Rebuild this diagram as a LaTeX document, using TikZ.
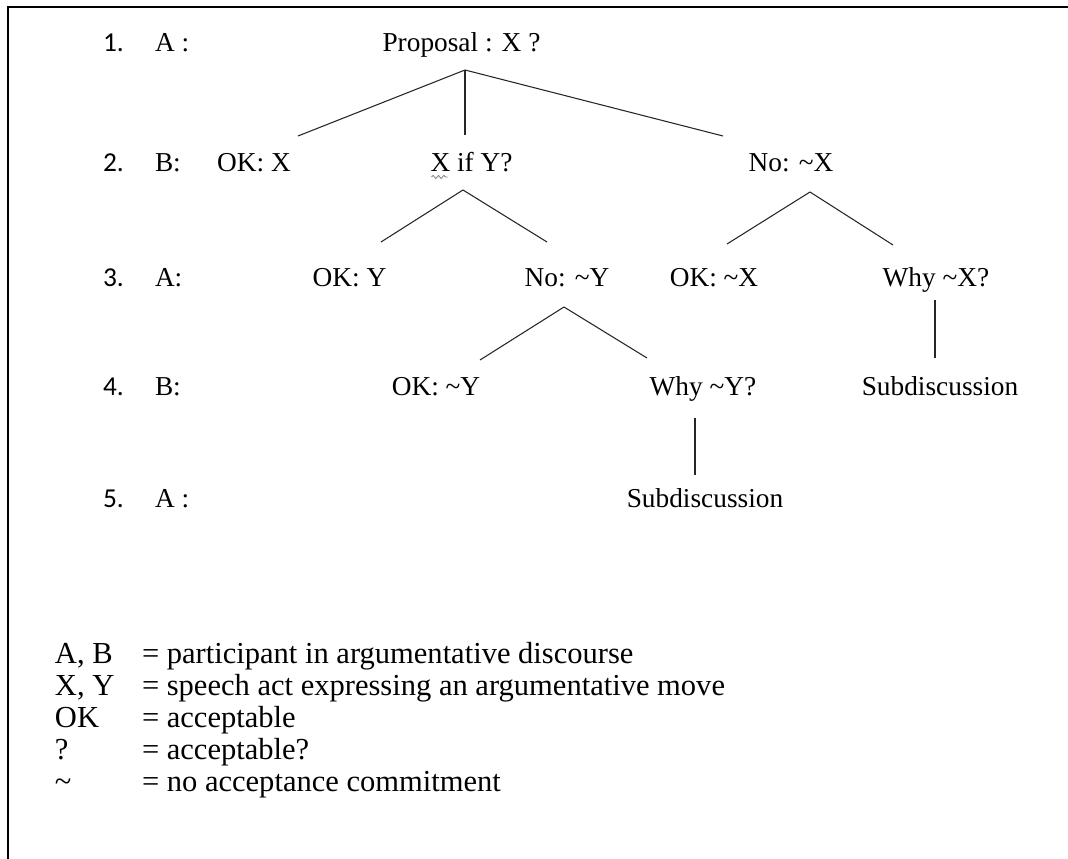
\documentclass[tikz,border=0pt]{standalone}
\usepackage{fontspec}
\setmainfont{Liberation Serif}
\newfontfamily\numfont{Carlito}
\usetikzlibrary{calc,decorations.pathmorphing}

\begin{document}
\begin{tikzpicture}[x=0.75pt,y=-0.75pt,
  every node/.style={inner sep=0pt,outer sep=0pt,font=\fontsize{20.5pt}{24pt}\selectfont},
  lbl/.style={anchor=base west},
  num/.style={anchor=base west,font=\fontsize{20.5pt}{24pt}\selectfont\numfont},
  move/.style={anchor=base},
  key/.style={anchor=base west,font=\fontsize{22.9pt}{27pt}\selectfont},
  branch/.style={draw=black!85,line width=0.8pt},
  frameline/.style={draw=black,line width=1.6pt}]

\useasboundingbox (0,0) rectangle (1068,859);
\draw[frameline] (1068,7) -- (8,7) -- (8,859);

% turn numbers and speakers
\node[num] (n1) at (103,52) {1.};  \node[lbl] (s1) at (155,52) {A :};
\node[num] (n2) at (103,172) {2.}; \node[lbl] (s2) at (155,172) {B:};
\node[num] (n3) at (103,287) {3.}; \node[lbl] (s3) at (155,287) {A:};
\node[num] (n4) at (103,396) {4.}; \node[lbl] (s4) at (155,396) {B:};
\node[num] (n5) at (103,507) {5.}; \node[lbl] (s5) at (155,507) {A :};

% dialogue moves
\node[move] (prop) at (461.5,52) {Proposal : X ?};
\node[move] (okx)  at (254,172) {OK: X};
\node[move] (xify) at (471.5,172) {X if Y?};
\node[move] (nox)  at (791,172) {No: \textasciitilde X};
\node[move] (oky)  at (349.5,287) {OK: Y};
\node[move] (noy)  at (567,287) {No: \textasciitilde Y};
\node[move] (oknx) at (714,287) {OK: \textasciitilde X};
\node[move] (whyx) at (936,287) {Why \textasciitilde X?};
\node[move] (okny) at (436,396) {OK: \textasciitilde Y};
\node[move] (whyy) at (703,396) {Why \textasciitilde Y?};
\node[move] (subx) at (940,396) {Subdiscussion};
\node[move] (suby) at (705,507) {Subdiscussion};

% spell-check squiggle under the X
\draw[gray,line width=0.6pt,decorate,decoration={snake,amplitude=1.2pt,segment length=4pt}]
  ($(xify.base west)+(1,5)$) -- ($(xify.base west)+(17,5)$);

% branches
\draw[branch] ($(prop.base)+(3.5,18)$) -- ($(okx.base)+(44,-36)$);
\draw[branch] ($(prop.base)+(3.5,18)$) -- ($(xify.base)+(-6.5,-37)$);
\draw[branch] ($(prop.base)+(3.5,18)$) -- ($(nox.base)+(-68,-36)$);

\draw[branch] ($(xify.base)+(-8.5,18)$) -- ($(oky.base)+(31.5,-45)$);
\draw[branch] ($(xify.base)+(-8.5,18)$) -- ($(noy.base)+(-20,-45)$);

\draw[branch] ($(nox.base)+(19,20)$) -- ($(oknx.base)+(13,-43)$);
\draw[branch] ($(nox.base)+(19,20)$) -- ($(whyx.base)+(-43,-42)$);

\draw[branch] ($(noy.base)+(-3,20)$) -- ($(okny.base)+(44,-36)$);
\draw[branch] ($(noy.base)+(-3,20)$) -- ($(whyy.base)+(-56,-38)$);

\draw[branch] ($(whyx.base)+(-1,13)$) -- ($(subx.base)+(-5,-38)$);
\draw[branch] ($(whyy.base)+(-8,22)$) -- ($(suby.base)+(-10,-32)$);

% legend
\node[key] (ka) at (55,663) {A, B};  \node[key] (va) at (142,663) {= participant in argumentative discourse};
\node[key] (kb) at (55,695) {X, Y};  \node[key] (vb) at (142,695) {= speech act expressing an argumentative move};
\node[key] (kc) at (55,727) {OK};    \node[key] (vc) at (142,727) {= acceptable};
\node[key] (kd) at (55,759) {?};     \node[key] (vd) at (142,759) {= acceptable?};
\node[key] (ke) at (55,791) {\textasciitilde}; \node[key] (ve) at (142,791) {= no acceptance commitment};
\end{tikzpicture}
\end{document}
